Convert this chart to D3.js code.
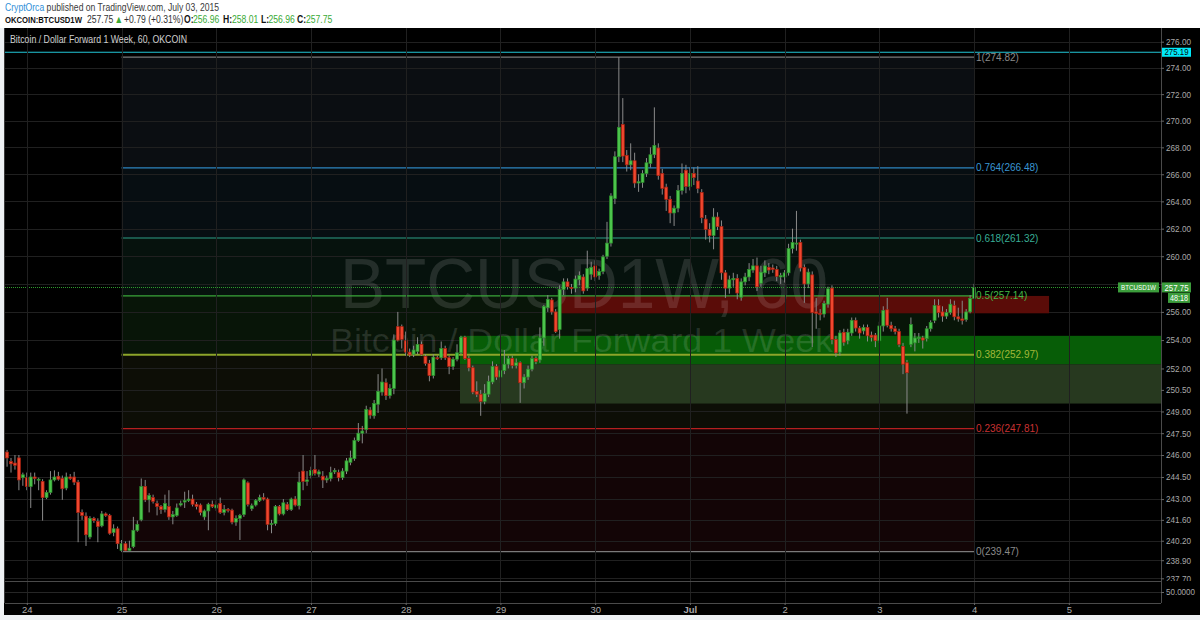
<!DOCTYPE html>
<html><head><meta charset="utf-8">
<script src="https://cdn.jsdelivr.net/npm/d3@7"></script>
<style>
html,body{margin:0;padding:0;background:#ffffff;}
svg{display:block;}
</style></head><body>
<svg id="c" width="1200" height="620"></svg>
<script>
// ---------- DATA ----------
const firstCandle = Date.UTC(2015, 5, 23, 19); // hourly candles
const opens = [246.2,245.55,245.45,245.8,244.45,244.45,243.85,244.5,244.3,244.2,243.1,243.45,244.3,244.55,244.4,243.75,244.5,244.5,244.15,242.1,241.85,240.45,241.7,241.5,241.2,242.0,241.9,240.75,241.0,239.55,240.0,239.55,239.8,240.9,241.6,243.85,242.95,243.1,242.7,242.5,242.3,242.5,241.8,241.9,242.6,242.8,242.9,243.0,242.65,242.6,241.8,242.2,242.65,242.4,242.7,242.1,242.3,242.25,241.45,241.7,241.95,244.1,242.35,242.6,242.9,243.1,243.0,241.3,241.35,242.5,242.0,242.65,242.3,243.0,242.55,244.9,244.2,244.6,245.0,244.7,244.55,244.3,244.4,244.85,244.8,244.45,244.9,245.5,245.75,247.0,247.5,247.75,249.1,248.7,249.5,250.35,251.0,250.1,250.6,254.95,254.95,253.95,253.15,253.0,253.2,253.7,252.85,252.35,251.5,252.75,252.75,253.4,252.75,252.15,252.65,253.1,254.2,252.7,252.05,250.4,250.2,249.7,250.2,251.05,252.15,251.4,251.85,252.3,252.7,252.2,252.4,251.0,251.4,251.95,252.7,252.6,254.15,256.3,256.85,256.0,254.75,257.6,258.15,257.75,257.7,258.3,258.5,257.7,258.7,259.3,258.6,258.9,260.0,260.95,264.2,267.3,269.7,267.4,266.7,267.0,265.35,265.4,266.05,266.8,267.45,267.95,266.05,265.05,264.15,263.15,263.5,264.8,266.3,265.1,266.05,265.5,264.65,262.7,261.95,261.5,262.85,262.15,258.8,257.7,258.3,258.4,257.05,258.15,258.5,259.0,259.3,258.05,258.8,259.2,259.15,259.05,258.5,258.5,258.8,260.55,260.9,261.0,259.2,258.0,258.65,256.0,255.9,255.85,256.55,257.7,254.05,253.15,254.55,253.95,254.5,255.4,254.85,254.65,254.9,254.35,254.35,253.95,255.0,256.15,255.05,254.8,254.6,253.55,252.4,253.7,253.8,254.1,254.15,254.1,254.8,255.4,256.45,256.0,255.7,255.95,256.45,255.65,255.5,255.45,256.0,256.96];
const highs = [246.35,245.8,246.0,246.0,244.8,244.8,244.8,244.8,244.45,244.35,243.6,244.9,244.95,244.85,244.6,244.8,244.7,244.85,244.3,242.3,242.1,241.85,241.8,241.7,242.2,242.1,242.0,241.3,241.15,240.25,240.15,240.2,241.8,241.55,244.4,244.3,243.4,243.3,242.9,242.6,243.3,243.6,242.2,242.7,242.9,243.5,243.6,243.3,242.8,242.7,242.3,242.75,242.9,242.9,243.1,242.6,242.4,242.35,241.9,242.0,244.4,244.2,242.7,243.0,243.3,243.4,243.1,241.6,242.6,242.6,243.0,242.8,243.1,243.2,244.85,246.0,244.9,245.2,246.0,245.0,244.9,244.6,245.2,245.1,245.0,245.1,245.8,246.3,247.2,248.2,248.0,249.4,249.3,249.8,251.6,252.0,251.3,250.9,254.4,256.0,255.1,254.6,253.4,253.6,254.2,253.9,253.0,252.6,253.0,252.9,253.9,253.6,252.9,252.8,253.7,254.3,254.3,252.9,252.2,251.1,250.5,250.9,251.5,252.5,252.3,252.0,253.3,252.9,252.9,252.7,252.5,251.6,252.2,252.9,252.85,254.9,256.5,257.2,257.0,256.2,257.9,258.4,258.4,258.0,258.6,258.9,258.7,260.4,259.6,259.7,259.1,260.1,262.5,264.6,267.7,274.82,271.7,267.8,268.3,267.6,266.0,266.3,267.2,268.0,271.0,268.3,266.4,265.3,264.4,263.7,265.2,266.8,266.7,266.5,266.5,266.6,264.9,263.0,262.4,263.5,263.2,262.6,259.0,258.6,258.8,258.7,258.4,258.8,259.5,259.8,259.9,259.3,259.7,259.5,259.4,259.3,258.8,259.0,260.9,262.0,263.3,261.2,259.4,259.1,258.9,257.0,256.2,256.8,257.8,257.9,254.3,254.7,254.8,254.8,255.6,255.6,255.0,255.1,255.1,254.6,254.5,255.3,256.4,257.0,255.3,255.0,254.8,253.8,252.6,255.6,254.5,254.5,254.3,255.0,255.4,256.9,256.9,256.4,256.2,256.9,256.8,256.3,256.8,256.2,257.2,258.01];
const lows = [245.2,244.8,245.0,243.6,243.9,243.6,242.4,244.0,243.6,241.55,243.0,243.3,244.2,244.25,242.95,243.6,244.3,243.95,240.1,241.6,239.85,240.3,241.4,240.1,241.1,241.8,240.6,240.5,239.65,239.47,239.5,239.5,239.7,240.8,241.5,242.8,242.1,242.7,241.9,242.0,242.1,241.6,241.3,241.8,242.5,242.4,242.8,242.5,242.3,241.9,241.6,240.9,242.4,242.2,242.0,241.9,242.1,241.3,241.2,240.25,241.8,242.5,242.2,242.5,242.8,242.9,240.9,240.7,241.2,241.9,241.9,242.2,242.2,242.5,242.3,243.6,243.9,244.4,244.6,244.5,243.75,244.1,244.2,244.7,244.2,244.3,244.7,245.3,245.6,246.9,246.8,247.5,248.5,248.5,248.9,250.1,249.8,249.9,250.2,253.9,253.4,252.9,252.8,252.8,253.0,252.9,252.2,251.1,251.3,252.6,252.6,252.6,251.6,251.9,252.5,253.0,252.6,251.8,250.2,250.0,248.7,249.5,250.0,250.9,251.2,251.0,251.6,252.0,252.0,252.0,249.6,250.6,251.2,251.8,252.3,252.4,253.6,256.0,255.8,254.5,254.1,257.2,257.6,257.3,257.4,257.9,257.3,257.5,258.3,258.2,258.3,258.7,259.8,260.7,263.8,266.9,266.9,266.2,266.3,265.0,264.7,265.0,265.8,266.5,267.2,265.6,264.5,263.3,262.4,262.2,263.2,264.5,264.6,264.8,265.2,264.6,262.4,261.2,261.0,260.5,261.9,258.3,257.0,257.3,257.8,256.9,256.8,257.9,258.2,258.8,257.5,257.8,258.5,258.7,258.8,258.2,258.0,258.1,258.6,260.2,260.4,258.9,256.65,257.7,253.5,254.8,255.4,255.6,256.3,253.7,252.8,252.9,253.6,253.7,254.3,254.6,254.1,254.4,253.9,253.9,253.5,253.8,254.6,254.9,254.6,254.4,253.5,251.6,248.85,253.5,253.2,253.8,253.4,253.9,254.6,255.2,255.6,255.3,255.5,255.8,255.4,255.3,255.1,255.3,255.9,256.96];
const closes = [245.8,245.4,245.3,244.3,244.65,243.85,244.5,244.4,244.35,243.1,243.45,244.3,244.5,244.35,243.7,244.5,244.4,244.15,242.1,241.9,240.6,241.7,241.55,241.15,242.0,241.9,240.7,241.0,240.0,240.0,239.55,239.7,240.9,241.3,243.85,242.95,243.25,242.85,242.5,242.3,242.7,241.8,241.95,242.4,242.7,242.9,243.0,242.65,242.5,242.1,242.2,242.65,242.5,242.6,242.1,242.3,242.25,241.45,241.7,241.9,244.3,242.65,242.55,242.9,243.1,243.0,241.3,241.35,242.5,242.0,242.75,242.3,243.0,242.6,244.15,244.2,244.3,244.95,244.75,244.85,244.3,244.4,244.8,244.95,244.45,244.9,245.6,245.8,247.0,247.5,247.65,249.15,248.75,249.55,250.4,251.05,250.1,250.6,254.0,254.0,254.05,253.15,252.95,253.3,253.7,253.0,252.35,251.5,252.8,252.7,253.4,252.75,252.15,252.65,253.1,254.2,252.7,252.05,250.35,250.2,249.7,250.25,251.1,252.15,251.4,251.85,252.3,252.7,252.2,252.4,251.0,251.4,251.95,252.7,252.5,254.15,256.4,256.9,256.0,254.6,257.6,258.15,257.8,257.7,258.35,258.6,257.5,259.1,259.2,258.5,258.9,259.95,260.95,264.4,267.3,269.5,267.35,266.7,267.0,265.35,265.45,266.05,266.85,267.45,268.15,265.9,264.95,264.15,263.15,263.5,264.8,266.05,265.1,266.05,265.75,264.95,262.8,261.95,261.5,262.85,262.15,258.8,257.7,258.3,258.4,257.35,258.15,258.5,259.05,259.3,257.8,258.85,259.3,259.0,259.05,258.55,258.6,258.8,260.55,261.0,260.95,259.15,258.0,258.85,255.95,255.9,255.85,256.6,257.65,254.05,253.1,254.5,253.85,254.55,255.4,254.85,254.5,254.9,254.3,254.2,253.95,255.0,256.1,255.05,254.8,254.6,253.7,252.3,251.7,255.1,254.15,254.2,254.0,254.8,255.25,256.45,255.95,255.7,255.95,256.55,255.65,255.5,255.4,256.0,256.96,257.75];

const priceTicks = [276,274,272,270,268,266,264,262,260,258,256,254,252,250.5,249,247.5,246,244.5,243,241.6,240.2,238.9,237.7];
const fibRatios = ["1","0.764","0.618","0.5","0.382","0.236","0"];
const fibPrices = [274.82,266.48,261.32,257.14,252.97,247.81,239.47];
const fibLineColors = ["#7a7a7a","#2f86c0","#2f9e86","#3aa63a","#8da52a","#b52020","#7a7a7a"];
const fibTextColors = ["#8a8a8a","#3a96d2","#38ae95","#45b845","#a2b83a","#c83232","#8a8a8a"];
const fibZoneColors = ["#0b0e12","#070e12","#06120d","#081508","#0d0e06","#130506"];
const fibStart = Date.UTC(2015,5,25,0), fibEnd = Date.UTC(2015,6,4,0);
const cyanLevel = 275.19;
const lastPrice = 257.75;
// rectangles drawn on chart: [startTime, endTime, top price, bottom price]
const boxRed = [Date.UTC(2015,5,29,15), Date.UTC(2015,6,4,19), 257.14, 255.9];
const boxGreen = [Date.UTC(2015,5,28,13,45), Date.UTC(2015,6,6,0), 254.3, 252.3];
const boxOlive = [Date.UTC(2015,5,28,13,45), Date.UTC(2015,6,6,0), 252.3, 249.55];

// ---------- LAYOUT ----------
const FONT = "'Liberation Sans', Arial, sans-serif";
const svg = d3.select("#c");
const L = 5, R = 1161, T = 28, B = 581;
const x = d3.scaleUtc().domain([Date.UTC(2015,5,24), Date.UTC(2015,6,5)]).range([26.8, 1068.8]);
const y = d3.scaleLog().domain([237.7, 276]).range([578.3, 41.7]);
const HOUR = 3600e3;
const candles = closes.map((c,i)=>({t:firstCandle+i*HOUR,o:opens[i],h:highs[i],l:lows[i],c:c}));

// page frame
svg.append("rect").attr("x",0).attr("y",0).attr("width",1200).attr("height",620).attr("fill","#ffffff");
svg.append("rect").attr("x",0).attr("y",28).attr("width",1200).attr("height",592).attr("fill","#eef1f4");
svg.append("rect").attr("x",4).attr("y",28).attr("width",1196).attr("height",587).attr("fill","#000");

// header (narrow face: compress horizontally)
const SX = 0.82;
const h1 = svg.append("text").attr("transform",`translate(5,10.8) scale(${SX},1)`)
  .attr("font-family",FONT).attr("font-size",10.5);
h1.append("tspan").attr("fill","#2f8fd8").text("CryptOrca");
h1.append("tspan").attr("fill","#3a3a3a").text(" published on TradingView.com, July 03, 2015");
const h2 = svg.append("text").attr("transform",`translate(0,22.8) scale(${SX},1)`)
  .attr("font-family",FONT).attr("font-size",10.5);
const parts = [[5,"OKCOIN:BTCUSD1W","#111",true,9.4],[87,"257.75","#333",false,10.5],[114.5,"▲","#3aaa35",false,10.5],
  [124,"+0.79 (+0.31%)","#333",false,10.5],[184,"O:","#111",true,10.5],[193,"256.96","#3aaa35",false,10.5],
  [223,"H:","#111",true,10.5],[232,"258.01","#3aaa35",false,10.5],[261,"L:","#111",true,10.5],[268.5,"256.96","#3aaa35",false,10.5],
  [297,"C:","#111",true,10.5],[306,"257.75","#3aaa35",false,10.5]];
parts.forEach(p=>{
  h2.append("tspan").attr("x",p[0]/SX).attr("fill",p[2]).attr("font-weight",p[3]?"bold":"normal")
    .attr("font-size",p[4]).text(p[1]);
});

// clip for plot
svg.append("clipPath").attr("id","plot").append("rect").attr("x",L).attr("y",T).attr("width",R-L).attr("height",B-T);
const plot = svg.append("g").attr("clip-path","url(#plot)");

// fib zones
const fx0 = x(fibStart), fx1 = x(fibEnd);
for (let k=0;k<fibPrices.length-1;k++){
  plot.append("rect").attr("x",fx0).attr("width",fx1-fx0)
    .attr("y",y(fibPrices[k])).attr("height",y(fibPrices[k+1])-y(fibPrices[k]))
    .attr("fill",fibZoneColors[k]);
}

// grid
const dayTicks = d3.utcDay.range(Date.UTC(2015,5,24), Date.UTC(2015,6,6));
plot.selectAll(".hg").data(priceTicks).join("line").attr("x1",L).attr("x2",R)
  .attr("y1",d=>Math.round(y(d))+0.5).attr("y2",d=>Math.round(y(d))+0.5).attr("stroke","#202020");
svg.selectAll(".vg").data(dayTicks).join("line").attr("x1",d=>Math.round(x(d))+0.5).attr("x2",d=>Math.round(x(d))+0.5)
  .attr("y1",T).attr("y2",603).attr("stroke","#202020");

// boxes
function box(b,fill){
  plot.append("rect").attr("x",x(b[0])).attr("width",Math.min(x(b[1]),R)-x(b[0]))
    .attr("y",y(b[2])).attr("height",y(b[3])-y(b[2])).attr("fill",fill);
}
box(boxOlive,"#27391f");
box(boxGreen,"#075d07");
box(boxRed,"#5a0c08");

// watermark
const wm = plot.append("g").attr("font-family",FONT).attr("fill","rgba(255,255,255,0.12)");
wm.append("text").attr("x",340).attr("y",308).attr("font-size",70).attr("textLength",488).attr("lengthAdjust","spacingAndGlyphs").text("BTCUSD1W, 60");
wm.append("text").attr("x",330).attr("y",352).attr("font-size",33).attr("textLength",503).attr("lengthAdjust","spacingAndGlyphs").text("Bitcoin / Dollar Forward 1 Week");

// fib lines & labels
fibPrices.forEach((p,k)=>{
  plot.append("line").attr("x1",fx0).attr("x2",fx1).attr("y1",y(p)).attr("y2",y(p))
    .attr("stroke",fibLineColors[k]).attr("stroke-width",k===4?2:1.2);
  plot.append("text").attr("x",fx1+2).attr("y",y(p)).attr("dy","0.35em")
    .attr("font-family",FONT).attr("font-size",10)
    .attr("fill",fibTextColors[k]).text(fibRatios[k]+"("+p.toFixed(2)+")");
});

// cyan horizontal line
plot.append("line").attr("x1",L).attr("x2",R).attr("y1",y(cyanLevel)).attr("y2",y(cyanLevel)).attr("stroke","#22c6d6").attr("stroke-width",1.2);
// last price dotted line
plot.append("line").attr("x1",L).attr("x2",R).attr("y1",Math.round(y(lastPrice))+0.5).attr("y2",Math.round(y(lastPrice))+0.5)
  .attr("stroke","#2f9a2f").attr("stroke-dasharray","1,1");

// candles
const cg = plot.append("g");
cg.selectAll(".wick").data(candles).join("line")
  .attr("x1",d=>x(d.t)).attr("x2",d=>x(d.t)).attr("y1",d=>y(d.h)).attr("y2",d=>y(d.l))
  .attr("stroke","#8a8a8a").attr("stroke-width",1);
cg.selectAll(".body").data(candles).join("rect")
  .attr("x",d=>x(d.t)-1.5).attr("width",3)
  .attr("y",d=>y(Math.max(d.o,d.c)))
  .attr("height",d=>Math.max(1,Math.abs(y(d.o)-y(d.c))))
  .attr("fill",d=>d.c>=d.o?"#4cc44c":"#f0472f")
  .attr("stroke",d=>d.c>=d.o?"#2a8a2a":"#a8200f").attr("stroke-width",0.7);

// chart title
svg.append("text").attr("x",10).attr("y",43).attr("font-family",FONT)
  .attr("font-size",10.5).attr("fill","#d0d0d0").attr("textLength",177).attr("lengthAdjust","spacingAndGlyphs")
  .text("Bitcoin / Dollar Forward 1 Week, 60, OKCOIN");

// pane borders
svg.append("line").attr("x1",R+0.5).attr("x2",R+0.5).attr("y1",T).attr("y2",603).attr("stroke","#4a4a4a");
svg.append("line").attr("x1",L).attr("x2",R).attr("y1",B+0.5).attr("y2",B+0.5).attr("stroke","#4a4a4a");
svg.append("line").attr("x1",L).attr("x2",R).attr("y1",592.5).attr("y2",592.5).attr("stroke","#262626");
svg.append("line").attr("x1",L).attr("x2",R).attr("y1",603.5).attr("y2",603.5).attr("stroke","#4a4a4a");
svg.append("line").attr("x1",L-0.5).attr("x2",L-0.5).attr("y1",T).attr("y2",603).attr("stroke","#3a3a3a");

// price axis (258.00 label sits under the last-price tag, so only its tick is drawn)
svg.append("clipPath").attr("id","axclip").append("rect").attr("x",0).attr("y",T).attr("width",40).attr("height",B-T);
const ya = svg.append("g").attr("transform",`translate(${R},0)`).attr("clip-path","url(#axclip)")
  .call(d3.axisRight(y).tickValues(priceTicks).tickFormat(d=>d===258?"":d.toFixed(2)).tickSize(3).tickPadding(2));
ya.select(".domain").remove();
ya.selectAll("line").attr("stroke","#666");
ya.selectAll("text").filter(d=>d!==258).attr("fill","#a8a8a8").attr("font-family",FONT).attr("font-size",9)
  .attr("textLength",25).attr("lengthAdjust","spacingAndGlyphs");
ya.selectAll("text").filter(d=>d===258).remove();
svg.append("line").attr("x1",R).attr("x2",R+3).attr("y1",592.5).attr("y2",592.5).attr("stroke","#666");
svg.append("text").attr("x",R+5).attr("y",592).attr("dy","0.32em").attr("fill","#a8a8a8")
  .attr("font-family",FONT).attr("font-size",9).attr("textLength",29).attr("lengthAdjust","spacingAndGlyphs").text("50.0000");

// time axis
const xa = svg.append("g").attr("transform","translate(0,603)")
  .call(d3.axisBottom(x).tickValues(dayTicks).tickFormat(d=>d.getUTCDate()===1?"Jul":d.getUTCDate()).tickSize(2).tickPadding(1));
xa.select(".domain").remove();
xa.selectAll("line").attr("stroke","#666");
xa.selectAll("text").attr("fill","#a8a8a8").attr("font-family",FONT).attr("font-size",9.5)
  .attr("font-weight",d=>d.getUTCDate()===1?"bold":"normal");

// axis label boxes
function tag(x0,w,yc,h,bg,fg,txt,fs,tl){
  svg.append("rect").attr("x",x0).attr("y",yc-h/2).attr("width",w).attr("height",h).attr("fill",bg);
  svg.append("text").attr("x",x0+w/2).attr("y",yc).attr("dy","0.35em").attr("text-anchor","middle")
    .attr("font-family",FONT).attr("font-size",fs).attr("fill",fg)
    .attr("textLength",tl).attr("lengthAdjust","spacingAndGlyphs").text(txt);
}
tag(R+1,29,y(cyanLevel),9,"#00e8f8","#0a0a0a","275.19",9,24);
tag(R+1,29,y(lastPrice),10,"#3c9d3c","#ffffff","257.75",9,24);
tag(1118,41,y(lastPrice),10,"#3c9d3c","#ffffff","BTCUSD1W",8,35);
tag(R+7,22,y(lastPrice)+10.5,10,"#3c9d3c","#ffffff","48:18",9,18);
</script>
</body></html>
